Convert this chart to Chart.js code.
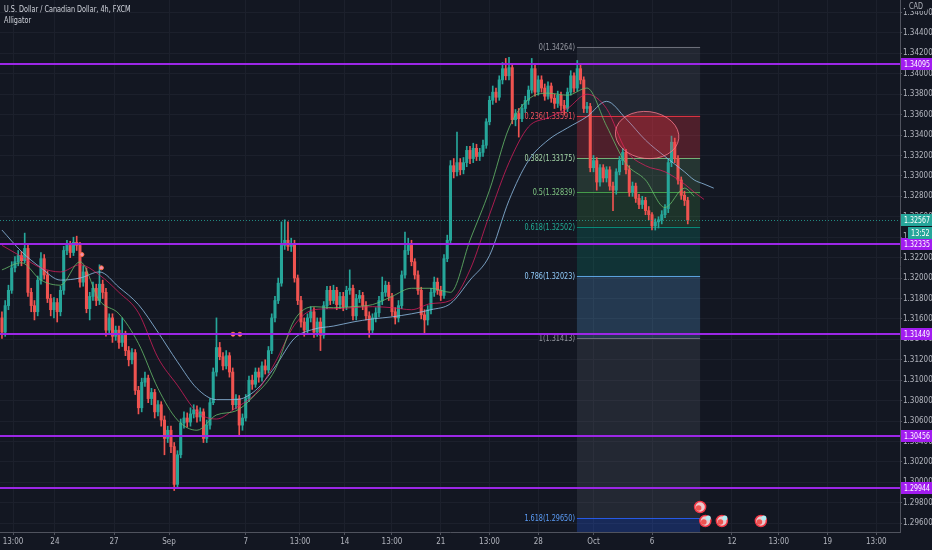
<!DOCTYPE html>
<html>
<head>
<meta charset="utf-8">
<title>USDCAD 4h</title>
<script src="https://cdn.jsdelivr.net/npm/chart.js@4.4.1/dist/chart.umd.min.js"></script>
<style>
html,body{margin:0;padding:0;background:#131722;overflow:hidden;}
#wrap{width:932px;height:550px;}
</style>
</head>
<body>
<div id="wrap"><canvas id="c" width="932" height="550"></canvas></div>
<script>
// USD/CAD 4h candles (FXCM), oldest first
const opens = [
1.3161,1.3147,1.3173,1.3188,1.3210,1.3216,1.3222,1.3217,1.3229,1.3186,
1.3173,1.3167,1.3198,1.3219,1.3203,1.3180,1.3169,1.3176,1.3167,1.3188,
1.3227,1.3232,1.3225,1.3235,1.3232,1.3196,1.3206,1.3170,1.3182,1.3190,
1.3178,1.3194,1.3186,1.3149,1.3161,1.3143,1.3149,1.3137,1.3144,1.3129,
1.3120,1.3127,1.3090,1.3073,1.3098,1.3102,1.3082,1.3088,1.3069,1.3076,
1.3061,1.3043,1.3051,1.3035,1.2998,1.3027,1.3058,1.3063,1.3059,1.3067,
1.3071,1.3064,1.3069,1.3043,1.3056,1.3078,1.3108,1.3132,1.3123,1.3114,
1.3124,1.3108,1.3076,1.3082,1.3056,1.3063,1.3082,1.3100,1.3096,1.3108,
1.3103,1.3114,1.3110,1.3129,1.3161,1.3178,1.3195,1.3232,1.3237,1.3231,
1.3234,1.3200,1.3178,1.3157,1.3149,1.3161,1.3167,1.3147,1.3157,1.3144,
1.3173,1.3188,1.3178,1.3188,1.3174,1.3182,1.3172,1.3188,1.3190,1.3163,
1.3180,1.3183,1.3173,1.3163,1.3149,1.3161,1.3166,1.3178,1.3186,1.3193,
1.3182,1.3167,1.3161,1.3173,1.3203,1.3227,1.3232,1.3216,1.3203,1.3188,
1.3164,1.3159,1.3169,1.3186,1.3196,1.3188,1.3183,1.3219,1.3237,1.3310,
1.3304,1.3313,1.3306,1.3313,1.3325,1.3317,1.3327,1.3319,1.3323,1.3330,
1.3353,1.3374,1.3382,1.3377,1.3394,1.3405,1.3398,1.3406,1.3355,1.3361,
1.3356,1.3366,1.3374,1.3384,1.3405,1.3382,1.3394,1.3386,1.3378,1.3388,
1.3376,1.3371,1.3379,1.3369,1.3366,1.3382,1.3398,1.3386,1.3405,1.3394,
1.3366,1.3368,1.3308,1.3315,1.3294,1.3308,1.3298,1.3306,1.3290,1.3286,
1.3304,1.3315,1.3323,1.3306,1.3284,1.3290,1.3278,1.3272,1.3276,1.3266,
1.3262,1.3251,1.3255,1.3257,1.3262,1.3268,1.3313,1.3333,1.3317,1.3296,
1.3281,1.3276
];
const highs = [
1.3167,1.3178,1.3193,1.3216,1.3221,1.3227,1.3226,1.3244,1.3233,1.3190,
1.3178,1.3202,1.3225,1.3223,1.3207,1.3184,1.3181,1.3180,1.3192,1.3231,
1.3237,1.3236,1.3240,1.3241,1.3235,1.3212,1.3210,1.3186,1.3196,1.3194,
1.3213,1.3198,1.3190,1.3165,1.3165,1.3153,1.3153,1.3161,1.3148,1.3133,
1.3131,1.3130,1.3094,1.3102,1.3108,1.3105,1.3092,1.3091,1.3080,1.3079,
1.3065,1.3055,1.3055,1.3039,1.3031,1.3062,1.3069,1.3068,1.3073,1.3076,
1.3075,1.3073,1.3072,1.3061,1.3082,1.3112,1.3161,1.3137,1.3127,1.3129,
1.3127,1.3112,1.3086,1.3085,1.3067,1.3086,1.3104,1.3105,1.3112,1.3112,
1.3118,1.3120,1.3133,1.3165,1.3182,1.3200,1.3255,1.3257,1.3255,1.3239,
1.3237,1.3203,1.3182,1.3161,1.3165,1.3172,1.3171,1.3161,1.3161,1.3177,
1.3192,1.3192,1.3193,1.3191,1.3186,1.3186,1.3192,1.3208,1.3193,1.3184,
1.3188,1.3186,1.3177,1.3167,1.3165,1.3171,1.3182,1.3201,1.3197,1.3196,
1.3185,1.3171,1.3178,1.3207,1.3245,1.3239,1.3237,1.3219,1.3207,1.3191,
1.3169,1.3173,1.3190,1.3201,1.3200,1.3192,1.3223,1.3242,1.3315,1.3317,
1.3343,1.3317,1.3318,1.3329,1.3329,1.3332,1.3331,1.3327,1.3335,1.3356,
1.3378,1.3388,1.3386,1.3398,1.3411,1.3415,1.3416,1.3410,1.3365,1.3366,
1.3370,1.3378,1.3388,1.3415,1.3409,1.3398,1.3398,1.3390,1.3392,1.3391,
1.3380,1.3383,1.3382,1.3374,1.3386,1.3403,1.3401,1.3413,1.3409,1.3397,
1.3372,1.3371,1.3320,1.3318,1.3311,1.3311,1.3309,1.3309,1.3294,1.3307,
1.3319,1.3327,1.3326,1.3310,1.3294,1.3293,1.3282,1.3280,1.3279,1.3270,
1.3264,1.3258,1.3260,1.3266,1.3272,1.3317,1.3339,1.3337,1.3320,1.3299,
1.3285,1.3279
];
const lows = [
1.3141,1.3143,1.3169,1.3185,1.3206,1.3212,1.3212,1.3215,1.3182,1.3167,
1.3159,1.3163,1.3194,1.3199,1.3176,1.3163,1.3161,1.3157,1.3163,1.3184,
1.3223,1.3220,1.3222,1.3227,1.3191,1.3192,1.3166,1.3159,1.3178,1.3173,
1.3174,1.3180,1.3143,1.3145,1.3137,1.3139,1.3131,1.3133,1.3124,1.3114,
1.3116,1.3086,1.3067,1.3069,1.3094,1.3078,1.3076,1.3063,1.3065,1.3055,
1.3027,1.3039,1.3029,1.2992,1.2994,1.3024,1.3053,1.3054,1.3055,1.3063,
1.3059,1.3060,1.3039,1.3039,1.3052,1.3076,1.3104,1.3120,1.3110,1.3111,
1.3103,1.3071,1.3072,1.3045,1.3051,1.3060,1.3079,1.3091,1.3093,1.3098,
1.3099,1.3106,1.3107,1.3126,1.3157,1.3175,1.3192,1.3228,1.3227,1.3226,
1.3196,1.3174,1.3152,1.3143,1.3145,1.3157,1.3142,1.3143,1.3129,1.3141,
1.3170,1.3174,1.3175,1.3169,1.3170,1.3168,1.3169,1.3184,1.3159,1.3159,
1.3176,1.3169,1.3159,1.3142,1.3145,1.3157,1.3162,1.3174,1.3182,1.3178,
1.3163,1.3155,1.3157,1.3170,1.3200,1.3223,1.3212,1.3199,1.3184,1.3160,
1.3146,1.3154,1.3165,1.3182,1.3184,1.3178,1.3180,1.3216,1.3234,1.3298,
1.3300,1.3301,1.3302,1.3309,1.3312,1.3313,1.3315,1.3315,1.3319,1.3327,
1.3350,1.3370,1.3372,1.3374,1.3390,1.3394,1.3394,1.3351,1.3349,1.3338,
1.3353,1.3362,1.3370,1.3381,1.3378,1.3379,1.3382,1.3374,1.3375,1.3372,
1.3366,1.3367,1.3364,1.3360,1.3363,1.3379,1.3382,1.3383,1.3390,1.3362,
1.3362,1.3304,1.3304,1.3286,1.3290,1.3294,1.3294,1.3286,1.3266,1.3282,
1.3301,1.3311,1.3302,1.3280,1.3280,1.3274,1.3268,1.3268,1.3262,1.3257,
1.3247,1.3247,1.3249,1.3253,1.3259,1.3264,1.3309,1.3313,1.3292,1.3277,
1.3271,1.3253
];
const closes = [
1.3147,1.3173,1.3188,1.3210,1.3216,1.3222,1.3217,1.3229,1.3186,1.3173,
1.3167,1.3198,1.3219,1.3203,1.3180,1.3169,1.3176,1.3167,1.3188,1.3227,
1.3232,1.3225,1.3235,1.3232,1.3196,1.3206,1.3170,1.3182,1.3190,1.3178,
1.3194,1.3186,1.3149,1.3161,1.3143,1.3149,1.3137,1.3144,1.3129,1.3120,
1.3127,1.3090,1.3073,1.3098,1.3102,1.3082,1.3088,1.3069,1.3076,1.3061,
1.3043,1.3051,1.3035,1.2998,1.3027,1.3058,1.3063,1.3059,1.3067,1.3071,
1.3064,1.3069,1.3043,1.3056,1.3078,1.3108,1.3132,1.3123,1.3114,1.3124,
1.3108,1.3076,1.3082,1.3056,1.3063,1.3082,1.3100,1.3096,1.3108,1.3103,
1.3114,1.3110,1.3129,1.3161,1.3178,1.3195,1.3232,1.3237,1.3231,1.3234,
1.3200,1.3178,1.3157,1.3149,1.3161,1.3167,1.3147,1.3157,1.3144,1.3173,
1.3188,1.3178,1.3188,1.3174,1.3182,1.3172,1.3188,1.3190,1.3163,1.3180,
1.3183,1.3173,1.3163,1.3149,1.3161,1.3166,1.3178,1.3186,1.3193,1.3182,
1.3167,1.3161,1.3173,1.3203,1.3227,1.3232,1.3216,1.3203,1.3188,1.3164,
1.3159,1.3169,1.3186,1.3196,1.3188,1.3183,1.3219,1.3237,1.3310,1.3304,
1.3313,1.3306,1.3313,1.3325,1.3317,1.3327,1.3319,1.3323,1.3330,1.3353,
1.3374,1.3382,1.3377,1.3394,1.3405,1.3398,1.3406,1.3355,1.3361,1.3356,
1.3366,1.3374,1.3384,1.3405,1.3382,1.3394,1.3386,1.3378,1.3388,1.3376,
1.3371,1.3379,1.3369,1.3366,1.3382,1.3398,1.3386,1.3405,1.3394,1.3366,
1.3368,1.3308,1.3315,1.3294,1.3308,1.3298,1.3306,1.3290,1.3286,1.3304,
1.3315,1.3323,1.3306,1.3284,1.3290,1.3278,1.3272,1.3276,1.3266,1.3262,
1.3251,1.3255,1.3257,1.3262,1.3268,1.3313,1.3333,1.3317,1.3296,1.3281,
1.3276,1.32567
];

// Alligator (jaw / teeth / lips), sampled on the bar index
const alligatorIdx = [0,6,12,18,24,30,36,42,48,54,60,66,72,78,84,90,96,102,108,114,120,126,132,138,144,150,156,162,168,174,180,186,192,198,204,210,213,216,219];
const jaw = [1.3247,1.3226,1.3210,1.3198,1.3200,1.3206,1.3191,1.3174,1.3147,1.3118,1.3092,1.3081,1.3081,1.3090,1.3113,1.3141,1.3150,1.3153,1.3157,1.3160,1.3162,1.3165,1.3169,1.3175,1.3198,1.3222,1.3276,1.3315,1.3335,1.3347,1.3358,1.3373,1.3356,1.3335,1.3319,1.3304,1.3296,1.3292,1.3288];
const teeth = [1.3232,1.3221,1.3210,1.3206,1.3213,1.3203,1.3186,1.3166,1.3122,1.3095,1.3069,1.3062,1.3073,1.3087,1.3117,1.3154,1.3169,1.3170,1.3171,1.3172,1.3171,1.3169,1.3175,1.3178,1.3208,1.3262,1.3313,1.3348,1.3357,1.3366,1.3380,1.3366,1.3325,1.3310,1.3304,1.3292,1.3284,1.3277,null];
const lips = [1.3208,1.3215,1.3198,1.3193,1.3216,1.3178,1.3165,1.3136,1.3092,1.3061,1.3051,1.3066,1.3070,1.3086,1.3110,1.3159,1.3172,1.3171,1.3172,1.3174,1.3182,1.3190,1.3190,1.3186,1.3237,1.3286,1.3347,1.3375,1.3381,1.3379,1.3386,1.3349,1.3312,1.3296,1.3269,1.3288,1.3280,null,null];

// small signal marks above bars
const markIdx = [24.6, 30.6, 71.1, 73.2];
const markPrice = [1.3223, 1.3210, 1.3145, 1.3145];

// horizontal support / resistance levels
const levels = [1.34095, 1.32335, 1.31449, 1.30456, 1.29944];

// Fibonacci retracement
const fibRatios = ['0', '0.236', '0.382', '0.5', '0.618', '0.786', '1', '1.618'];
const fibPrices = [1.34264, 1.33591, 1.33175, 1.32839, 1.32502, 1.32023, 1.31413, 1.29650];
const fibFrom = 176.9, fibTo = 214.8;

// highlighted zone
const zoneIdx = 198.5, zonePrice = 1.3340, zoneHalfBars = 9.8, zoneHalfPrice = 0.0023;

// calendar events
const eventIdx = [214.8, 216.4, 221.5, 233.5];
const eventRow = [1, 0, 0, 0];

// time axis
const xTickIdx = [3.4, 16.3, 34.5, 51.4, 75, 91.7, 105.5, 120, 135, 150, 165, 182, 200, 224.6, 239, 254, 269];
const xTickText = ['13:00','24','27','Sep','7','13:00','14','13:00','21','13:00','28','Oct','6','12','13:00','19','13:00'];
const yTickValues = [1.296,1.298,1.300,1.302,1.304,1.306,1.308,1.310,1.312,1.314,1.316,1.318,1.320,1.322,1.324,1.326,1.328,1.330,1.332,1.334,1.336,1.338,1.340,1.342,1.344,1.346];

const lastPrice = closes[closes.length - 1];
const countdown = '13:52';

const UP = '#26a69a', DOWN = '#ef5350';
const AXIS_FONT = "'DejaVu Sans Condensed', 'Liberation Sans Narrow', 'Liberation Sans', sans-serif";

const barColors = closes.map((c, i) => c >= opens[i] ? UP : DOWN);
const bodyPts = closes.map((c, i) => ({ x: i, y: [opens[i], c] }));
const wickPts = closes.map((c, i) => ({ x: i, y: [lows[i], highs[i]] }));
const linePts = arr => alligatorIdx.map((x, i) => ({ x, y: arr[i] }));
const markPts = markIdx.map((x, i) => ({ x, y: markPrice[i] }));

const fibLine = ['#787b86','#f23645','#81c784','#4caf50','#089981','#64b5f6','#787b86','#2962ff'];
const fibFill = ['rgba(120,123,134,0.16)','rgba(242,54,69,0.27)','rgba(129,199,132,0.17)','rgba(76,175,80,0.19)','rgba(8,153,129,0.22)','rgba(100,181,246,0.22)','rgba(120,123,134,0.17)','rgba(41,98,255,0.25)'];
const fibText = ['#9598a1','#f7525f','#a5d6a7','#81c784','#22ab94','#90caf9','#9598a1','#5b9cf6'];

// text squeezed horizontally to the narrow UI face
function narrowText(g, text, x, y, sx) {
  g.save();
  g.translate(x, y);
  g.scale(sx, 1);
  g.fillText(text, 0, 0);
  g.restore();
}

const noPad = s => { s.paddingLeft = 0; s.paddingRight = 0; s.paddingTop = 0; s.paddingBottom = 0; };

const backdrop = {
  id: 'backdrop',
  beforeDraw(c) {
    const g = c.ctx;
    g.save();
    g.fillStyle = '#131722';
    g.fillRect(0, 0, c.width, c.height);
    g.restore();
  }
};

const fibPlugin = {
  id: 'fib',
  beforeDatasetsDraw(c) {
    const g = c.ctx, a = c.chartArea, x = c.scales.x, y = c.scales.y;
    const x0 = x.getPixelForValue(fibFrom), x1 = x.getPixelForValue(fibTo);
    g.save();
    g.beginPath(); g.rect(a.left, a.top, a.width, a.height); g.clip();
    fibPrices.forEach((p, k) => {
      const yt = y.getPixelForValue(p);
      const yb = k + 1 < fibPrices.length ? y.getPixelForValue(fibPrices[k + 1]) : a.bottom;
      g.fillStyle = fibFill[k];
      g.fillRect(x0, yt, x1 - x0, yb - yt);
    });
    fibPrices.forEach((p, k) => {
      const yy = Math.round(y.getPixelForValue(p)) + 0.5;
      g.strokeStyle = fibLine[k];
      g.globalAlpha = 0.85;
      g.lineWidth = 1;
      g.beginPath(); g.moveTo(x0, yy); g.lineTo(x1, yy); g.stroke();
      g.globalAlpha = 1;
      g.font = "8.5px " + AXIS_FONT;
      g.textAlign = 'right';
      g.textBaseline = 'middle';
      g.fillStyle = fibText[k];
      narrowText(g, fibRatios[k] + '(' + p.toFixed(5) + ')', x0 - 2, yy, 0.85);
    });
    g.restore();
  }
};

const overlays = {
  id: 'overlays',
  afterDatasetsDraw(c) {
    const g = c.ctx, a = c.chartArea, x = c.scales.x, y = c.scales.y;
    g.save();
    g.beginPath(); g.rect(a.left, a.top, a.width, a.height); g.clip();
    // last price line
    const yl = Math.round(y.getPixelForValue(lastPrice)) + 0.5;
    g.strokeStyle = 'rgba(38,166,154,0.8)';
    g.lineWidth = 1;
    g.setLineDash([1, 2]);
    g.beginPath(); g.moveTo(a.left, yl); g.lineTo(a.right, yl); g.stroke();
    g.setLineDash([]);
    // support / resistance
    g.strokeStyle = '#9c27e6';
    g.lineWidth = 2;
    levels.forEach(p => {
      const yy = Math.round(y.getPixelForValue(p));
      g.beginPath(); g.moveTo(a.left, yy); g.lineTo(a.right, yy); g.stroke();
    });
    // highlighted zone
    const cx = x.getPixelForValue(zoneIdx), cy = y.getPixelForValue(zonePrice);
    const rx = x.getPixelForValue(zoneIdx + zoneHalfBars) - cx;
    const ry = y.getPixelForValue(zonePrice - zoneHalfPrice) - cy;
    g.beginPath();
    g.ellipse(cx, cy, rx, ry, 0.12, 0, Math.PI * 2);
    g.fillStyle = 'rgba(242,54,69,0.26)';
    g.fill();
    g.strokeStyle = 'rgba(247,120,140,0.8)';
    g.lineWidth = 1;
    g.stroke();
    // calendar events
    eventIdx.forEach((v, i) => {
      const ex = x.getPixelForValue(v);
      const ey = a.bottom - 11 - eventRow[i] * 14;
      g.beginPath(); g.arc(ex, ey, 5.5, 0, Math.PI * 2);
      g.fillStyle = '#e8c9cd'; g.fill();
      g.strokeStyle = '#f23645'; g.lineWidth = 1.5; g.stroke();
      g.beginPath(); g.arc(ex - 1.5, ey + 1, 2.8, 0, Math.PI * 2);
      g.fillStyle = '#ef5350'; g.fill();
      if (!eventRow[i]) {
        g.beginPath(); g.arc(ex + 3, ey - 3, 2.5, 0, Math.PI * 2);
        g.fillStyle = '#b2ebf2'; g.fill();
      }
    });
    g.restore();
  },
  afterDraw(c) {
    const g = c.ctx, a = c.chartArea, y = c.scales.y;
    g.save();
    g.font = "8.5px " + AXIS_FONT;
    g.textBaseline = 'middle';
    g.textAlign = 'left';
    const tag = (p, text, bg, x0, w) => {
      const yy = Math.round(y.getPixelForValue(p));
      g.fillStyle = bg;
      g.fillRect(x0, yy - 6, w, 12);
      g.fillStyle = '#ffffff';
      narrowText(g, text, x0 + 3, yy + 0.5, 0.82);
    };
    levels.forEach(p => tag(p, p.toFixed(5), '#a21cf0', a.right + 1, 31));
    tag(lastPrice, lastPrice.toFixed(5), UP, a.right + 1, 31);
    const yc = Math.round(y.getPixelForValue(lastPrice)) + 13;
    g.fillStyle = UP;
    g.fillRect(a.right + 8, yc - 6, 24, 12);
    g.fillStyle = '#ffffff';
    narrowText(g, countdown, a.right + 11, yc + 0.5, 0.85);
    // currency
    g.fillStyle = '#131722';
    g.fillRect(a.right + 5, 2, 22, 9);
    g.fillStyle = '#b2b5be';
    narrowText(g, 'CAD', a.right + 9, 7, 0.85);
    // title
    g.font = "9px " + AXIS_FONT;
    g.fillStyle = '#d1d4dc';
    narrowText(g, 'U.S. Dollar / Canadian Dollar, 4h, FXCM', 4, 10, 0.8);
    narrowText(g, 'Alligator', 4, 21, 0.8);
    g.restore();
  }
};

new Chart(document.getElementById('c'), {
  type: 'bar',
  data: {
    datasets: [
      { type: 'line', label: 'Lips', data: linePts(lips), borderColor: 'rgba(102,187,106,0.8)', borderWidth: 1, pointRadius: 0, cubicInterpolationMode: 'monotone', spanGaps: false, order: 0 },
      { type: 'line', label: 'Teeth', data: linePts(teeth), borderColor: 'rgba(233,30,99,0.7)', borderWidth: 1, pointRadius: 0, cubicInterpolationMode: 'monotone', spanGaps: false, order: 0 },
      { type: 'line', label: 'Jaw', data: linePts(jaw), borderColor: 'rgba(144,190,230,0.8)', borderWidth: 1, pointRadius: 0, cubicInterpolationMode: 'monotone', spanGaps: false, order: 0 },
      { type: 'line', label: 'Marks', data: markPts, showLine: false, pointRadius: 2, pointBackgroundColor: '#f48fb1', pointBorderColor: '#ff7043', pointBorderWidth: 1, order: 0 },
      { label: 'Body', data: bodyPts, backgroundColor: barColors, barThickness: 2.4, grouped: false, minBarLength: 1, borderWidth: 0, order: 2 },
      { label: 'Wick', data: wickPts, backgroundColor: barColors, barThickness: 1, grouped: false, borderWidth: 0, order: 3 }
    ]
  },
  options: {
    responsive: false,
    animation: false,
    events: [],
    layout: { padding: 0, autoPadding: false },
    plugins: { legend: { display: false }, tooltip: { enabled: false } },
    scales: {
      x: {
        type: 'linear',
        min: -0.6,
        max: 276.3,
        offset: false,
        afterBuildTicks: s => { s.ticks = xTickIdx.map(v => ({ value: v })); },
        afterFit: s => { s.height = 18; noPad(s); },
        ticks: {
          autoSkip: false, maxRotation: 0, padding: 2,
          color: '#b2b5be',
          font: { family: AXIS_FONT, size: 8 },
          callback: (v, i) => xTickText[i]
        },
        grid: { color: '#1c202c', offset: false, tickLength: 3, tickColor: '#50535e' },
        border: { display: true, color: '#50535e' }
      },
      y: {
        type: 'linear',
        position: 'right',
        min: 1.29514,
        max: 1.34722,
        afterBuildTicks: s => { s.ticks = yTickValues.map(v => ({ value: v })); },
        afterFit: s => { s.width = 32; noPad(s); },
        ticks: {
          autoSkip: false, padding: 1,
          color: '#b2b5be',
          font: { family: AXIS_FONT, size: 8 },
          callback: v => v.toFixed(5)
        },
        grid: { color: '#1c202c', tickLength: 2, tickColor: '#50535e' },
        border: { display: true, color: '#50535e' }
      }
    }
  },
  plugins: [backdrop, fibPlugin, overlays]
});
</script>
</body>
</html>
